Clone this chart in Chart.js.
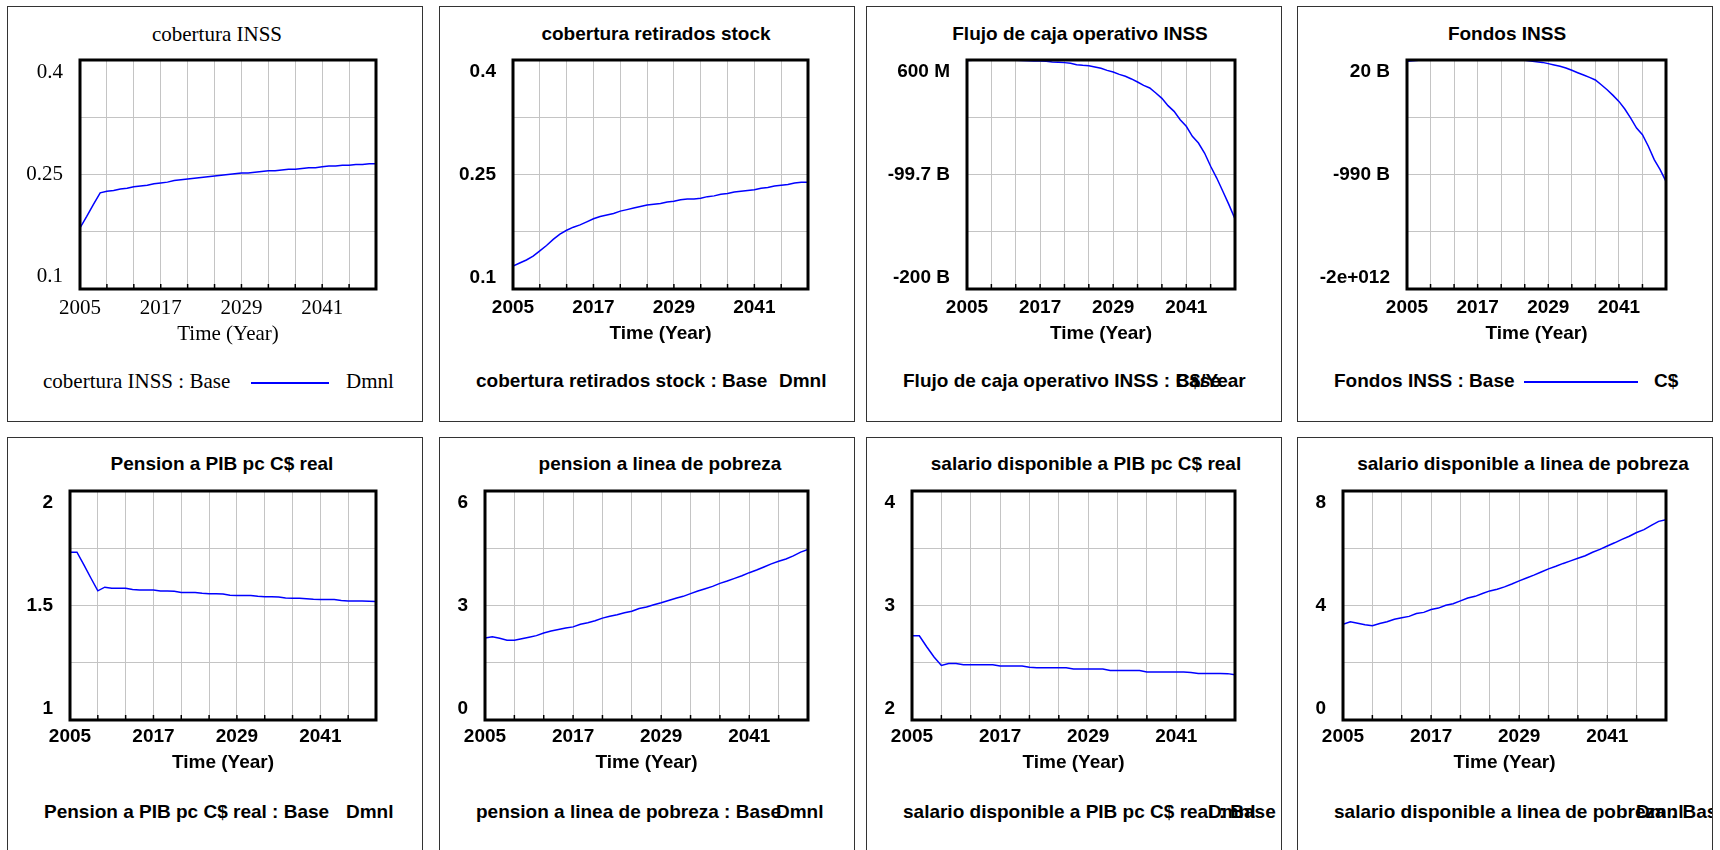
<!DOCTYPE html>
<html><head><meta charset="utf-8">
<script src="https://cdn.jsdelivr.net/npm/chart.js@4"></script>
<style>
html,body{margin:0;padding:0;background:#fff;}
body{width:1720px;height:850px;overflow:hidden;position:relative;}
.frame{position:absolute;border:1.5px solid #333;box-sizing:border-box;overflow:hidden;background:transparent;}
.txt{position:absolute;white-space:nowrap;font:bold 19px "Liberation Sans",Arial,sans-serif;color:#000;line-height:1.2;}
.serif{font-family:"Liberation Serif","Times New Roman",serif;font-weight:normal;font-size:21px;}
.ttl{transform:translate(-50%,-50%);}
.lg{transform:translateY(-50%);}
.lgline{position:absolute;height:1.5px;background:#0000ff;}
canvas{position:absolute;}
</style>
</head><body>
<script>
// ---------- DATA ----------
const years = [2005,2006,2007,2008,2009,2010,2011,2012,2013,2014,2015,2016,2017,2018,2019,2020,2021,2022,2023,2024,2025,2026,2027,2028,2029,2030,2031,2032,2033,2034,2035,2036,2037,2038,2039,2040,2041,2042,2043,2044,2045,2046,2047,2048,2049];
const xTickLabels = ['2005','2017','2029','2041'];

const coberturaINSS = [0.180,0.195,0.211,0.226,0.228,0.229,0.231,0.232,0.234,0.235,0.236,0.238,0.239,0.240,0.242,0.243,0.244,0.245,0.246,0.247,0.248,0.249,0.250,0.251,0.252,0.252,0.253,0.254,0.255,0.255,0.256,0.257,0.257,0.258,0.259,0.259,0.260,0.261,0.261,0.262,0.262,0.263,0.263,0.264,0.264];
const coberturaRetirados = [0.130,0.134,0.138,0.143,0.150,0.157,0.165,0.172,0.177,0.181,0.184,0.188,0.192,0.195,0.197,0.199,0.202,0.204,0.206,0.208,0.210,0.211,0.212,0.214,0.215,0.217,0.218,0.218,0.219,0.221,0.222,0.224,0.225,0.227,0.228,0.229,0.230,0.232,0.233,0.235,0.236,0.237,0.239,0.240,0.240];
// billions of C$/Year
const flujoCajaB = [0.2,0.3,0.4,0.5,0.6,0.6,0.5,0.4,0.3,0.1,-0.1,-0.2,-0.3,-0.6,-1.2,-1.4,-1.7,-2.3,-3.5,-4.1,-4.4,-5.5,-6.7,-8.5,-9.9,-12.0,-13.7,-16.0,-18.7,-21.6,-23.9,-28.3,-33.0,-39.4,-44.4,-51.7,-57.5,-66.3,-72.1,-80.9,-92.5,-102.8,-114.4,-126.1,-138.7];
// billions of C$
const fondosB = [8,14,17,18,18.5,19,19,19.5,19.5,20,20,20,20,20,20,20,20,20,19.5,19,17,11,5,-1,-12,-24,-36,-51,-71,-92,-112,-133,-156,-198,-242,-292,-345,-412,-492,-580,-639,-741,-859,-947,-1050];
const pensionPIB = [1.733,1.733,1.677,1.620,1.564,1.580,1.575,1.575,1.575,1.570,1.568,1.568,1.568,1.563,1.563,1.562,1.557,1.557,1.557,1.553,1.551,1.551,1.550,1.545,1.544,1.544,1.544,1.540,1.538,1.538,1.537,1.533,1.532,1.532,1.530,1.527,1.526,1.526,1.526,1.522,1.520,1.520,1.520,1.519,1.518];
const pensionPobreza = [2.15,2.18,2.14,2.09,2.09,2.13,2.17,2.21,2.28,2.33,2.37,2.41,2.44,2.51,2.55,2.60,2.67,2.72,2.76,2.81,2.85,2.92,2.96,3.02,3.07,3.13,3.19,3.24,3.31,3.38,3.44,3.50,3.58,3.64,3.71,3.78,3.86,3.93,4.01,4.09,4.16,4.22,4.30,4.40,4.47];
const salarioPIB = [2.735,2.735,2.64,2.55,2.476,2.494,2.494,2.483,2.483,2.483,2.483,2.483,2.471,2.471,2.471,2.471,2.46,2.456,2.456,2.456,2.456,2.456,2.445,2.445,2.445,2.445,2.445,2.433,2.433,2.433,2.433,2.433,2.419,2.419,2.419,2.419,2.419,2.419,2.415,2.407,2.407,2.407,2.407,2.405,2.395];
const salarioPobreza = [3.34,3.43,3.38,3.33,3.29,3.37,3.43,3.52,3.57,3.62,3.72,3.76,3.86,3.91,4.01,4.06,4.16,4.26,4.32,4.42,4.51,4.57,4.65,4.75,4.86,4.96,5.06,5.17,5.28,5.37,5.47,5.56,5.65,5.74,5.86,5.96,6.08,6.19,6.31,6.42,6.55,6.65,6.80,6.94,7.00];

const yTicks1 = ['0.1','0.25','0.4'];
const yTicks2 = ['0.1','0.25','0.4'];
const yTicks3 = ['-200 B','-99.7 B','600 M'];
const yTicks4 = ['-2e+012','-990 B','20 B'];
const yTicks5 = ['1','1.5','2'];
const yTicks6 = ['0','3','6'];
const yTicks7 = ['2','3','4'];
const yTicks8 = ['0','4','8'];

const titles = ['cobertura INSS','cobertura retirados stock','Flujo de caja operativo INSS','Fondos INSS','Pension a PIB pc C$ real','pension a linea de pobreza','salario disponible a PIB pc C$ real','salario disponible a linea de pobreza'];
const legendTexts = ['cobertura INSS : Base','cobertura retirados stock : Base','Flujo de caja operativo INSS : Base','Fondos INSS : Base','Pension a PIB pc C$ real : Base','pension a linea de pobreza : Base','salario disponible a PIB pc C$ real : Base','salario disponible a linea de pobreza : Base'];
const units = ['Dmnl','Dmnl','C$/Year','C$','Dmnl','Dmnl','Dmnl','Dmnl'];
const xTitle = 'Time (Year)';

// ---------- LAYOUT ----------
const series = [coberturaINSS,coberturaRetirados,flujoCajaB,fondosB,pensionPIB,pensionPobreza,salarioPIB,salarioPobreza];
const yTickSets = [yTicks1,yTicks2,yTicks3,yTicks4,yTicks5,yTicks6,yTicks7,yTicks8];
const yRanges = [[0.1,0.4],[0.1,0.4],[-200,0.6],[-2000,20],[1,2],[0,6],[2,4],[0,8]];
const layout = [
 {frame:[7,6,416,416], plot:[80,60,376,289], title:[216,34], legY:381, legX:42, unitX:345, line:[250,328], serif:true},
 {frame:[439,6,416,416], plot:[513,60,808,289], title:[655,33], legY:380, legX:475, unitX:778},
 {frame:[866,6,416,416], plot:[967,60,1235,289], title:[1079,33], legY:380, legX:902, unitX:1175},
 {frame:[1297,6,416,416], plot:[1407,60,1666,289], title:[1506,33], legY:380, legX:1333, unitX:1653, line:[1523,1637]},
 {frame:[7,437,416,430], plot:[70,491,376,720], title:[221,463], legY:811, legX:43, unitX:345, bottomRow:true},
 {frame:[439,437,416,430], plot:[485,491,808,720], title:[659,463], legY:811, legX:475, unitX:775, bottomRow:true},
 {frame:[866,437,416,430], plot:[912,491,1235,720], title:[1085,463], legY:811, legX:902, unitX:1207, bottomRow:true},
 {frame:[1297,437,416,430], plot:[1343,491,1666,720], title:[1522,463], legY:811, legX:1333, unitX:1635, bottomRow:true},
];

const boxPlugin = {
  id:'plotBox',
  afterDraw(chart){
    const {ctx, chartArea:a} = chart;
    const x = chart.scales.x;
    ctx.save();
    ctx.strokeStyle = '#000';
    ctx.lineWidth = 1.5;
    x.ticks.forEach(t => {
      const px = x.getPixelForValue(t.value);
      ctx.beginPath(); ctx.moveTo(px, a.bottom); ctx.lineTo(px, a.bottom - 5); ctx.stroke();
    });
    ctx.lineWidth = 3;
    ctx.strokeRect(a.left, a.top, a.right - a.left, a.bottom - a.top);
    ctx.restore();
  }
};

const YW = 100, TOPPAD = 12, RIGHTPAD = 10, XH = 60;

function zeroPad(s){ s.paddingTop = 0; s.paddingBottom = 0; s.paddingLeft = 0; s.paddingRight = 0; }

layout.forEach((L, i) => {
  const [fx, fy, fw, fh] = L.frame;
  const frame = document.createElement('div');
  frame.className = 'frame';
  Object.assign(frame.style, {left: fx + 'px', top: fy + 'px', width: fw + 'px', height: fh + 'px'});
  document.body.appendChild(frame);
  const cls = 'txt' + (L.serif ? ' serif' : '');

  const t = document.createElement('div');
  t.className = cls + ' ttl';
  t.textContent = titles[i];
  Object.assign(t.style, {left: (L.title[0] - fx) + 'px', top: (L.title[1] - fy) + 'px'});
  frame.appendChild(t);

  const lg = document.createElement('div');
  lg.className = cls + ' lg';
  lg.textContent = legendTexts[i];
  Object.assign(lg.style, {left: (L.legX - fx) + 'px', top: (L.legY - fy) + 'px'});
  frame.appendChild(lg);

  if (L.line) {
    const ln = document.createElement('div');
    ln.className = 'lgline';
    Object.assign(ln.style, {left: (L.line[0] - fx) + 'px', width: (L.line[1] - L.line[0]) + 'px', top: (L.legY - fy) + 'px'});
    frame.appendChild(ln);
  }
  const un = document.createElement('div');
  un.className = cls + ' lg';
  un.textContent = units[i];
  Object.assign(un.style, {left: (L.unitX - fx) + 'px', top: (L.legY - fy) + 'px'});
  frame.appendChild(un);

  // chart canvas
  const [pl, pt, pr, pb] = L.plot;
  const cw = (pr - pl) + YW + RIGHTPAD;
  const ch = (pb - pt) + TOPPAD + XH;
  const cv = document.createElement('canvas');
  cv.width = cw; cv.height = ch;
  Object.assign(cv.style, {left: (pl - YW) + 'px', top: (pt - TOPPAD) + 'px', width: cw + 'px', height: ch + 'px'});
  document.body.appendChild(cv);

  const font = L.serif
    ? {family: '"Liberation Serif","Times New Roman",serif', size: 21, weight: 'normal', lineHeight: 1.2}
    : {family: '"Liberation Sans",Arial,sans-serif', size: 19, weight: 'bold', lineHeight: 1.2};
  const lh = font.size * 1.2;
  const tickCenter = L.bottomRow ? 17 : 19;
  const titleCenter = L.bottomRow ? 43 : 45;
  const yl = yTickSets[i];

  new Chart(cv, {
    type: 'line',
    data: {
      datasets: [{
        data: years.map((yr, k) => ({x: yr, y: series[i][k]})),
        borderColor: '#0000ff', borderWidth: 1.5, pointRadius: 0, tension: 0, fill: false
      }]
    },
    options: {
      responsive: false, animation: false, devicePixelRatio: 1,
      layout: {autoPadding: false, padding: {left: 0, top: TOPPAD, right: RIGHTPAD, bottom: 0}},
      plugins: {legend: {display: false}, tooltip: {enabled: false}, title: {display: false}},
      scales: {
        x: {
          type: 'linear', min: years[0], max: years[years.length - 1],
          ticks: {count: 12, autoSkip: false, maxRotation: 0, minRotation: 0, color: '#000', font: font,
                  padding: tickCenter - lh / 2,
                  callback: (v) => xTickLabels.indexOf(String(Math.round(v))) >= 0 ? String(Math.round(v)) : ''},
          grid: {color: '#c4c4c4', lineWidth: 1, drawTicks: false},
          border: {display: false},
          title: {display: true, text: xTitle, color: '#000', font: font,
                  padding: {top: 0, bottom: XH - titleCenter - lh / 2}},
          afterFit: (s) => { s.height = XH; zeroPad(s); }
        },
        y: {
          type: 'linear', min: yRanges[i][0], max: yRanges[i][1],
          ticks: {count: 5, autoSkip: false, color: '#000', font: font, padding: 17,
                  callback: (v, k) => k === 0 ? [yl[0], ''] : k === 2 ? yl[1] : k === 4 ? ['', yl[2]] : ''},
          grid: {color: '#c4c4c4', lineWidth: 1, drawTicks: false},
          border: {display: false},
          afterFit: (s) => { s.width = YW; zeroPad(s); }
        }
      }
    },
    plugins: [boxPlugin]
  });
});
</script>
</body></html>
